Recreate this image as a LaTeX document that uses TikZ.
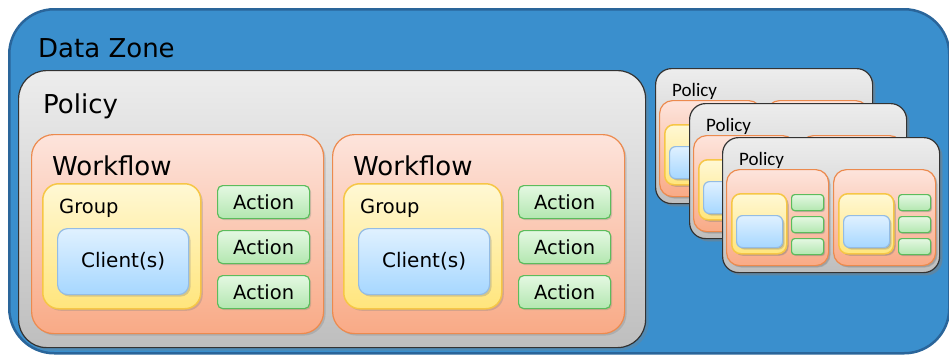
\documentclass[tikz,border=0pt]{standalone}
\usepackage{fontspec}
\setmainfont{DejaVu Sans}
\newfontfamily\calfont{Carlito}
\usepackage{tikz}
\usetikzlibrary{shadows}

\definecolor{zoneblue}{HTML}{3A8FCD}
\definecolor{zoneedge}{HTML}{2A659A}
\definecolor{poltop}{HTML}{EDEDED}
\definecolor{polbot}{HTML}{BEBEBE}
\definecolor{poledge}{HTML}{333333}
\definecolor{flowtop}{HTML}{FDE4DC}
\definecolor{flowbot}{HTML}{F9AA86}
\definecolor{flowedge}{HTML}{EC8A4E}
\definecolor{grptop}{HTML}{FFF8D4}
\definecolor{grpbot}{HTML}{FFE57C}
\definecolor{grpedge}{HTML}{F6C646}
\definecolor{clitop}{HTML}{E0F1FF}
\definecolor{clibot}{HTML}{A6D7FF}
\definecolor{cliedge}{HTML}{94BCE4}
\definecolor{acttop}{HTML}{E4F8E2}
\definecolor{actbot}{HTML}{B3E7B0}
\definecolor{actedge}{HTML}{5CBC5C}

\begin{document}
\begin{tikzpicture}[
  x=1pt,y=-1pt,
  wh/.style 2 args={minimum width=#1pt,minimum height=#2pt},
  box/.style={anchor=north west,inner sep=0pt,line width=1.2pt},
  shade/.style={drop shadow={shadow xshift=#1pt,shadow yshift=-#1pt,opacity=.3}},
  zone/.style={box,draw=zoneedge,fill=zoneblue,line width=2.5pt,rounded corners=45pt},
  policy/.style={box,draw=poledge,top color=poltop,bottom color=polbot,rounded corners=28pt,shade=3},
  flow/.style={box,draw=flowedge,top color=flowtop,bottom color=flowbot,rounded corners=22pt,shade=2},
  grp/.style={box,draw=grpedge,top color=grptop,bottom color=grpbot,line width=1.5pt,rounded corners=16pt,shade=2},
  cli/.style={box,draw=cliedge,top color=clitop,bottom color=clibot,rounded corners=10pt,shade=2,font=\fontsize{20}{24}\selectfont},
  act/.style={box,draw=actedge,top color=acttop,bottom color=actbot,rounded corners=5pt,shade=1.5,font=\fontsize{19.5}{23}\selectfont},
  big/.style={anchor=base west,inner sep=0pt,font=\fontsize{26}{30}\selectfont},
  mid/.style={anchor=base west,inner sep=0pt,font=\fontsize{19.5}{23}\selectfont},
  small/.style={anchor=base west,inner sep=0pt,font=\calfont\fontsize{19}{22}\selectfont},
  % stacked policies: smaller corners
  spolicy/.style={policy,rounded corners=16pt,shade=2.5},
  sflow/.style={flow,rounded corners=13pt,shade=1.5},
  sgrp/.style={grp,rounded corners=9pt,shade=1.5},
  scli/.style={cli,rounded corners=6pt,shade=1},
  sact/.style={act,rounded corners=3pt,shade=1}
]
\useasboundingbox (0,0) rectangle (949,354);

\node[zone,wh={940}{344}] (zone) at (8,8) {};
\node[big] (zonetxt) at (38,57) {Data Zone};

\node[policy,wh={627}{277}] (pol) at (18,70) {};
\node[big] (poltxt) at (43,113) {Policy};

\foreach \k/\dx in {1/0,2/301}{
  \begin{scope}[shift={(\dx,0)}]
    \node[flow,wh={292}{199}] (flow\k) at (31,134) {};
    \node[big] (flowtxt\k) at (52,175) {Workflow};
    \node[grp,wh={158}{125}] (grp\k) at (42,183) {};
    \node[mid] (grptxt\k) at (59,213) {Group};
    \node[cli,wh={131}{66}] (cli\k) at (57,228) {Client(s)};
    \node[act,wh={92}{33}] (act\k-1) at (217,185) {Action};
    \node[act,wh={92}{33}] (act\k-2) at (217,230) {Action};
    \node[act,wh={92}{33}] (act\k-3) at (217,275) {Action};
  \end{scope}
}

% three policies stacked at the right
\foreach \p/\px/\py in {a/655/68,b/689/103,c/722/137}{
  \begin{scope}[shift={(\px,\py)}]
    \node[spolicy,wh={217}{135}] (spol\p) at (0,0) {};
    \node[small] (spoltxt\p) at (17,28) {Policy};
    \foreach \k/\dx in {1/0,2/107}{
      \node[sflow,wh={102}{96}] (sflow\p\k) at (4+\dx,32) {};
      \node[sgrp,wh={55}{60}] (sgrp\p\k) at (9+\dx,56) {};
      \node[scli,wh={46}{32}] (scli\p\k) at (14+\dx,78) {};
      \node[sact,wh={32}{16}] (sact\p\k-1) at (69+\dx,57) {};
      \node[sact,wh={32}{16}] (sact\p\k-2) at (69+\dx,79) {};
      \node[sact,wh={32}{16}] (sact\p\k-3) at (69+\dx,101) {};
    }
  \end{scope}
}
\end{tikzpicture}
\end{document}
